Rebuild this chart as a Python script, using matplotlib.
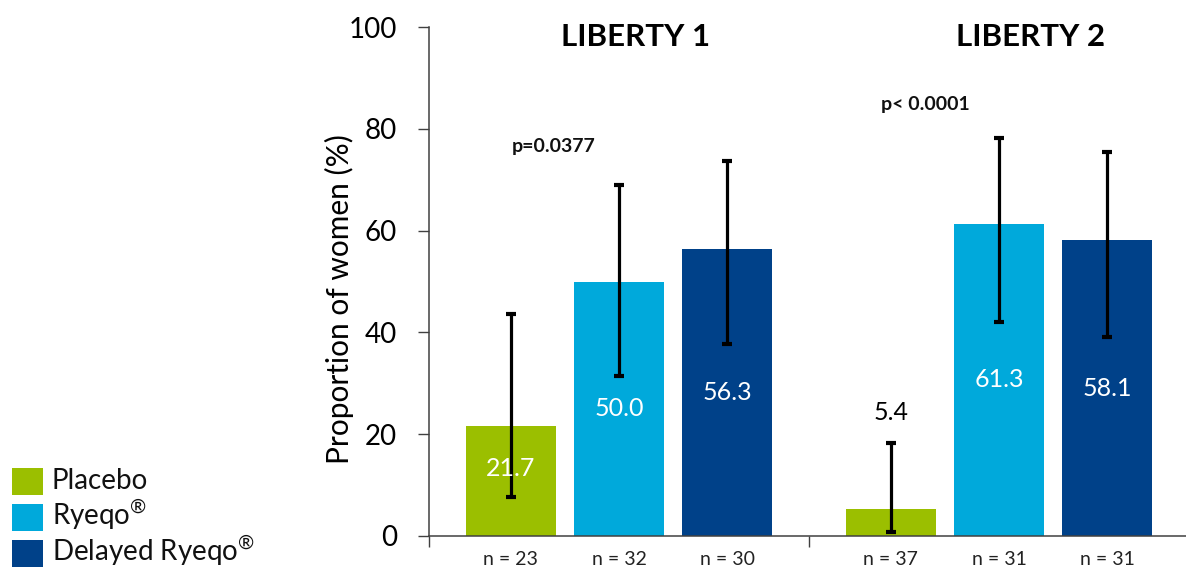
import matplotlib
matplotlib.use("Agg")
import matplotlib.pyplot as plt
from matplotlib.patches import Rectangle
import numpy as np

plt.rcParams['font.family'] = ['Lato', 'DejaVu Sans']
plt.rcParams['mathtext.default'] = 'regular'

# Data
studies = ["LIBERTY 1", "LIBERTY 2"]
arms = ["Placebo", "Ryeqo", "Delayed Ryeqo"]
legend_labels = ["Placebo", "Ryeqo$^{®}$", "Delayed Ryeqo$^{®}$"]
values = {
    "Placebo": [21.7, 5.4],
    "Ryeqo": [50.0, 61.3],
    "Delayed Ryeqo": [56.3, 58.1],
}
ci_low = {
    "Placebo": [7.6, 0.8],
    "Ryeqo": [31.4, 42.0],
    "Delayed Ryeqo": [37.8, 39.1],
}
ci_high = {
    "Placebo": [43.6, 18.2],
    "Ryeqo": [68.9, 78.2],
    "Delayed Ryeqo": [73.6, 75.4],
}
n_counts = {
    "Placebo": [23, 37],
    "Ryeqo": [32, 31],
    "Delayed Ryeqo": [30, 31],
}
p_values = ["p=0.0377", "p< 0.0001"]
y_ticks = [0, 20, 40, 60, 80, 100]

colors = {"Placebo": "#9BBF00", "Ryeqo": "#00A9DB", "Delayed Ryeqo": "#004189"}

W, H = 1186, 570
fig = plt.figure(figsize=(W / 100, H / 100), dpi=100)
ax = fig.add_axes([429 / W, (H - 536) / H, (1189 - 429) / W, (536 - 27) / H])

offsets = [-0.285, 0.0, 0.285]
bar_w = 0.237
x = np.arange(len(studies))

for arm, off in zip(arms, offsets):
    vals = np.array(values[arm])
    lo = vals - np.array(ci_low[arm])
    hi = np.array(ci_high[arm]) - vals
    ax.bar(x + off, vals, width=bar_w, color=colors[arm], zorder=2)
    ax.errorbar(x + off, vals, yerr=[lo, hi], fmt='none', ecolor='black',
                elinewidth=2.3, capsize=3.5, capthick=3, zorder=3)
    for xi, v, top in zip(x + off, vals, ci_high[arm]):
        if v > 10:
            ax.text(xi, max(v / 2, 13.3), f"{v:.1f}", ha='center', va='center',
                    color='white', fontsize=18)
        else:
            ax.text(xi, top + 6, f"{v:.1f}", ha='center', va='center',
                    color='black', fontsize=18)
    for xi, n in zip(x + off, n_counts[arm]):
        ax.text(xi, -4.6, f"n = {n}", ha='center', va='center',
                fontsize=14, color='#222222')

# Study titles and p-values
for xi, title, dx in zip(x, studies, [0.043, 0.082]):
    ax.text(xi + dx, 98, title, ha='center', va='center',
            fontsize=22.5, fontweight='bold', color='black')
for xi, p, dx, yy in zip(x, p_values, [-0.172, -0.195], [76.5, 84.8]):
    ax.text(xi + dx, yy, p, ha='center', va='center',
            fontsize=14, fontweight='bold', color='#111111')

ax.set_xlim(-0.5, 1.5)
ax.set_ylim(0, 100)
ax.set_yticks(y_ticks)
ax.set_yticklabels([str(t) for t in y_ticks], fontsize=20)
ax.set_xticks([-0.5, 0.5])
ax.set_xticklabels([])
ax.tick_params(axis='y', length=8, width=1, color='#404040', pad=15)
ax.tick_params(axis='x', length=8, width=1, color='#404040')
for s in ['top', 'right']:
    ax.spines[s].set_visible(False)
for s in ['left', 'bottom']:
    ax.spines[s].set_color('#404040')
    ax.spines[s].set_linewidth(1.1)
ax.set_ylabel("Proportion of women (%)", fontsize=21.5)
ax.yaxis.set_label_coords(-0.099, 0.465)

# Legend key in the lower-left corner (figure pixel coordinates)
to_fig = lambda px, py: (px / W, 1 - py / H)
row_centers = [481, 517, 553]
for arm, label, cy in zip(arms, legend_labels, row_centers):
    x0, y0 = to_fig(12, cy + 13.5)
    fig.add_artist(Rectangle((x0, y0), 31 / W, 27 / H, transform=fig.transFigure,
                             facecolor=colors[arm], edgecolor='none'))
    tx, ty = to_fig(52, cy + 8)
    fig.text(tx, ty, label, ha='left', va='baseline', fontsize=20, color='#111111')

fig.savefig("out.png", dpi=100)
